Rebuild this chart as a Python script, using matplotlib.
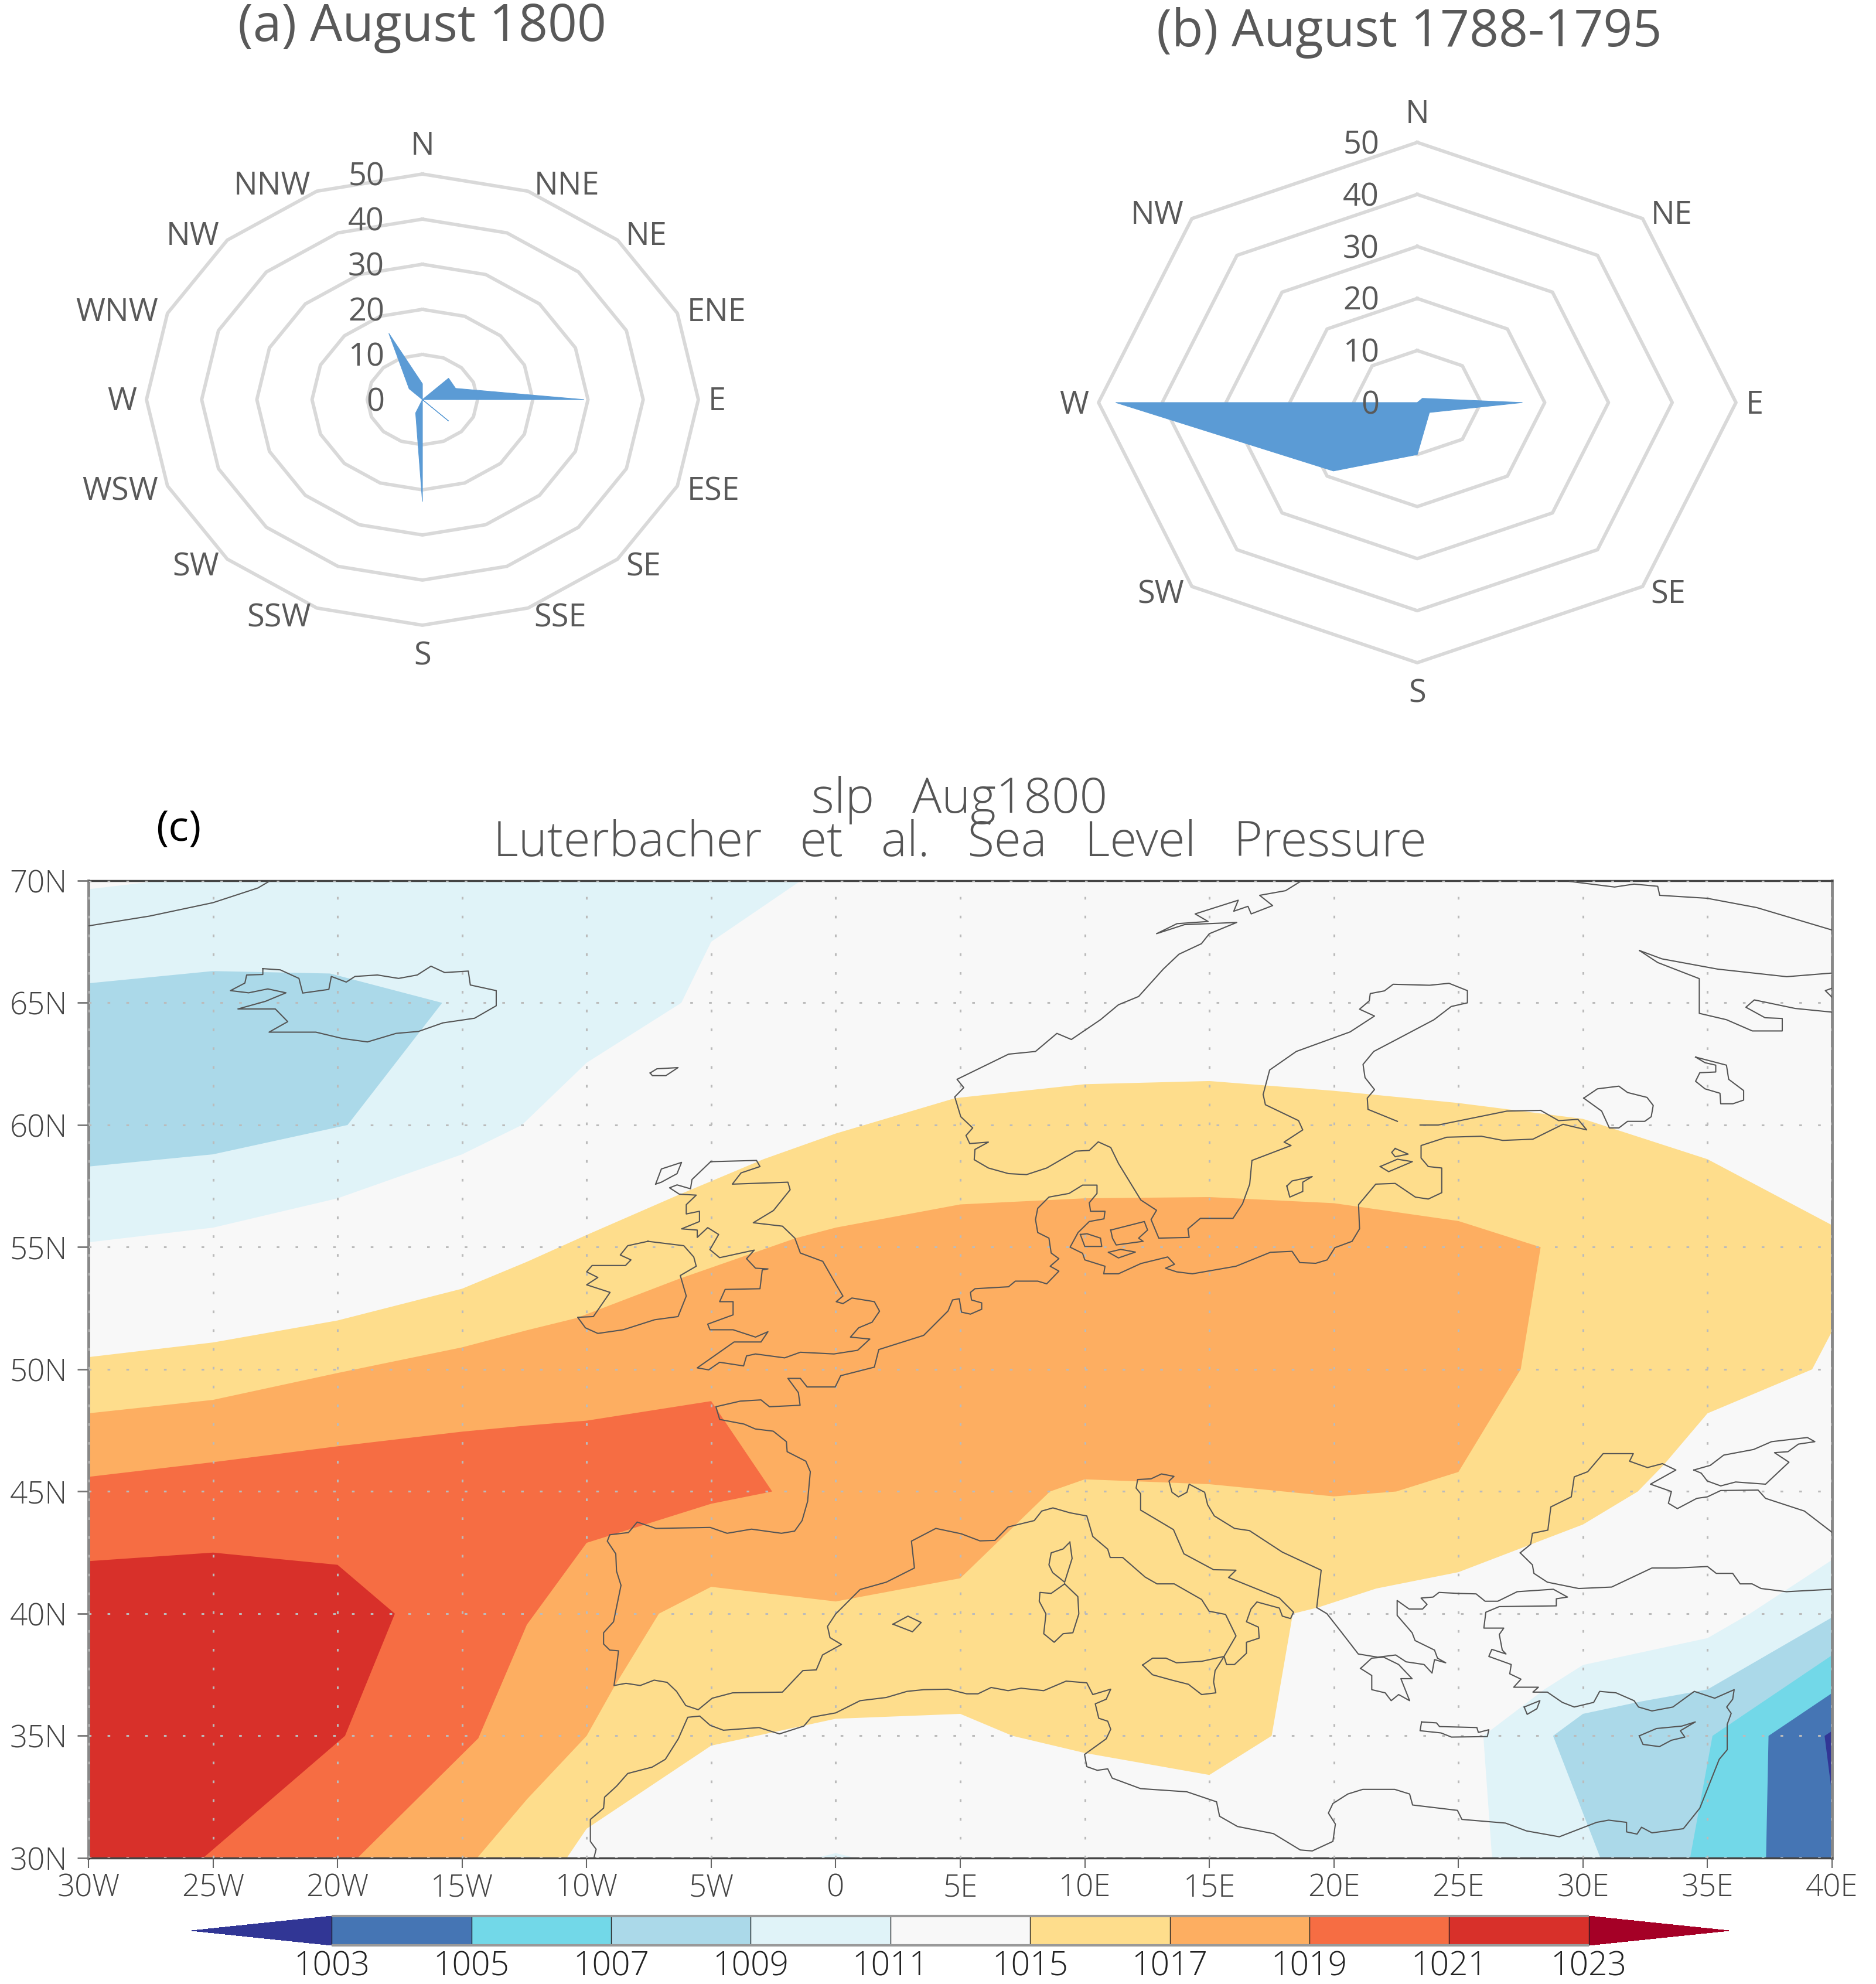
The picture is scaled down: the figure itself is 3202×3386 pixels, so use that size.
import numpy as np
import matplotlib
matplotlib.use("Agg")
import matplotlib.pyplot as plt
from matplotlib.cm import ScalarMappable
from matplotlib.colors import BoundaryNorm, ListedColormap

W, H = 3202, 3386

# --- wind roses: share of observations per direction ---
dirs_a = ["N", "NNE", "NE", "ENE", "E", "ESE", "SE", "SSE", "S", "SSW", "SW", "WSW", "W", "WNW", "NW", "NNW"]
vals_a = [3.5, 0, 6.7, 6.5, 29.3, 0, 6.7, 0, 22.6, 3.2, 0, 0, 0, 0, 3.4, 15.9]
dirs_b = ["N", "NE", "E", "SE", "S", "SW", "W", "NW"]
vals_b = [0, 1.15, 16.5, 2.7, 10, 18.6, 47.3, 0]
rings = [10, 20, 30, 40, 50]

# --- slp map: band polygons (lon, lat), lowest drawn first ---
lon_ticks = list(range(-30, 41, 5))
lon_labels = ["30W", "25W", "20W", "15W", "10W", "5W", "0", "5E", "10E", "15E", "20E", "25E", "30E", "35E", "40E"]
lat_ticks = [30, 35, 40, 45, 50, 55, 60, 65, 70]
lat_labels = ["30N", "35N", "40N", "45N", "50N", "55N", "60N", "65N", "70N"]
levels = [1003, 1005, 1007, 1009, 1011, 1015, 1017, 1019, 1021, 1023]
band_colors = ["#4575b4", "#72d8e8", "#abd9e9", "#e0f3f8", "#f8f8f8", "#fedd8c", "#fdae61", "#f66d43", "#d8302a"]
under_color = "#313695"
over_color = "#a50026"

nw_1009 = [(-30, 69.65), (-27.1, 70), (-1.4, 70), (-5, 67.5), (-6.2, 65), (-10, 62.55), (-12.6, 60), (-15, 58.8),
           (-20, 57), (-25, 55.8), (-30, 55.2)]
nw_1007 = [(-30, 65.8), (-25, 66.3), (-20.3, 66.2), (-15.8, 65), (-19.6, 60), (-25, 58.8), (-30, 58.3)]
se_1009 = [(40, 42.2), (36.7, 40), (35, 39), (30, 37.9), (28.45, 36.9), (26, 35), (26.35, 30), (40, 30)]
se_1007 = [(40, 39.85), (35, 36.9), (32.3, 36.4), (30, 35.9), (28.8, 35), (30.7, 30), (40, 30)]
se_1005 = [(40, 38.3), (35.2, 35), (34.3, 30), (40, 30)]
se_1003 = [(40, 36.75), (37.45, 35), (37.35, 30), (40, 30)]
se_low = [(39.7, 35), (40, 35.2), (40, 32.6)]
spot_1009 = [(-0.8, 30), (0, 30.2), (0.8, 30)]
band_1015 = [(-30, 50.5), (-25, 51.1), (-20, 52), (-15, 53.3), (-12.4, 54.4), (-10, 55.5), (-6.4, 57.1), (-5, 57.7),
             (-2.9, 58.6), (0, 59.65),
             (4.8, 61.1), (10, 61.67), (15, 61.8), (20, 61.4), (25, 60.9), (30, 60.25), (35, 58.6), (40, 55.9),
             (40, 51.56), (39.2, 50), (35, 48.2), (33.25, 46.1), (32.2, 45), (30, 43.65), (25, 41.7), (21.7, 41.03),
             (19.35, 40.25), (18.35, 40), (17.5, 35), (15, 33.4), (10, 34.3), (7.1, 35), (5, 35.9), (0, 35.7),
             (-5, 34.6), (-10, 31.2), (-10.8, 30), (-30, 30)]
band_1017 = [(-30, 48.2), (-25, 48.75), (-20, 49.85), (-15, 50.9), (-12.4, 51.6), (-10.4, 52.1), (-6.3, 53.7),
             (-1.6, 55.37), (0, 55.8), (5, 56.75), (10, 57), (15, 57.05), (20, 56.8), (25, 56.07), (28.3, 55),
             (27.5, 50), (25, 45.8), (22.5, 45), (20, 44.8), (15, 45.3), (10, 45.5), (8.6, 45), (5, 41.45), (0, 40.5),
             (-5, 41.1), (-7.1, 40), (-8.9, 37), (-10, 35), (-12.4, 32.4), (-14.4, 30), (-30, 30)]
band_1019 = [(-30, 45.6), (-25, 46.2), (-20, 46.85), (-15, 47.45), (-12.4, 47.7), (-10, 47.9), (-5, 48.7), (-2.55, 45),
             (-5, 44.5), (-10, 42.9), (-12.4, 39.55), (-14.35, 34.9), (-19.2, 30), (-30, 30)]
band_1021 = [(-30, 42.15), (-25, 42.5), (-20, 42), (-17.7, 40), (-19.7, 35), (-25.4, 30), (-30, 30)]

# --- coastlines (lon, lat) ---
greenland = [(-30, 68.15), (-27.55, 68.55), (-25, 69.1), (-23.2, 69.7), (-22.7, 70)]
iceland = [(-23, 66.4), (-22.3, 66.35), (-21.55, 66), (-21.4, 65.4), (-20.35, 65.55), (-20.25, 66.08), (-19.65, 65.85),
           (-19.3, 66.08), (-18.4, 66.14), (-17.55, 66), (-16.8, 66.14), (-16.25, 66.5), (-15.7, 66.24), (-14.75, 66.3),
           (-14.67, 65.73), (-13.63, 65.5), (-13.63, 64.88), (-14.5, 64.37), (-15.77, 64.18), (-16.75, 63.83),
           (-17.65, 63.75), (-18.8, 63.4), (-19.8, 63.54), (-20.87, 63.8), (-22.75, 63.8), (-22, 64.23), (-22.5, 64.75),
           (-24, 64.75), (-22.9, 65.06), (-22.07, 65.41), (-22.8, 65.57), (-23.57, 65.41), (-24.3, 65.5),
           (-23.72, 65.81), (-23.65, 66.14), (-23, 66.16), (-23, 66.4)]
faroe = [(-7.45, 62.13), (-7.18, 62.3), (-6.33, 62.35), (-6.82, 62.02), (-7.36, 62.02), (-7.45, 62.13)]
hebrides = [(-7.23, 57.58), (-7, 58.2), (-6.19, 58.47), (-6.37, 58.01), (-7, 57.66), (-7.23, 57.58)]
britain = [(-5.02, 58.5), (-3.18, 58.55), (-3.04, 58.3), (-3.8, 58.04), (-4.15, 57.58), (-1.92, 57.66), (-1.83, 57.35),
           (-2.5, 56.5), (-3.31, 56), (-2.14, 55.86), (-1.64, 55.37), (-1.42, 54.76), (-0.52, 54.42), (0.02, 53.46),
           (0.29, 53), (0.02, 52.77), (0.29, 52.69), (0.65, 52.92), (1.55, 52.77), (1.76, 52.38), (1.46, 51.93),
           (0.92, 51.7), (0.59, 51.32), (1.37, 51.24), (0.88, 50.78), (-0.07, 50.63), (-1.42, 50.7), (-2.05, 50.47),
           (-3.22, 50.63), (-3.58, 50.55), (-3.7, 50.14), (-4.66, 50.29), (-5.1, 49.98), (-5.56, 50.06), (-4.08, 51.12),
           (-3, 51.12), (-2.72, 51.54), (-3.22, 51.32), (-4.12, 51.62), (-5.05, 51.62), (-5.14, 51.85), (-4.12, 52.23),
           (-4.12, 52.77), (-4.66, 52.77), (-4.44, 53.27), (-3.04, 53.3), (-2.95, 54.07), (-2.72, 54.11), (-3.22, 54.14),
           (-3.58, 54.53), (-3.27, 54.88), (-4.66, 54.57), (-5.05, 54.9), (-4.7, 55.52), (-5.14, 55.8), (-5.56, 55.4),
           (-5.56, 55.7), (-6.19, 55.75), (-5.47, 56.05), (-5.47, 56.47), (-6, 56.36), (-6, 56.74), (-5.6, 57.13),
           (-6.28, 57.17), (-6.67, 57.43), (-6.37, 57.55), (-5.83, 57.39), (-5.77, 57.77), (-5.02, 58.5)]
ireland = [(-7.54, 55.24), (-6.1, 55.06), (-5.7, 54.6), (-5.6, 54.22), (-6.24, 53.84), (-6, 53), (-6.33, 52.16),
           (-7.27, 52.03), (-8.53, 51.62), (-9.55, 51.47), (-10.05, 51.7), (-10.36, 52.13), (-9.73, 52.16),
           (-9.06, 53.15), (-10, 53.46), (-9.55, 53.76), (-10, 53.99), (-9.78, 54.25), (-8.44, 54.25), (-8.22, 54.48),
           (-8.65, 54.68), (-8.35, 55.06), (-7.54, 55.24)]
norway_sweden = [(18.66, 69.97), (18.06, 69.59), (17.02, 69.4), (17.54, 68.98), (16.68, 68.64), (16.55, 68.95),
                 (15.98, 68.75), (16.16, 69.2), (14.43, 68.64), (14.95, 68.33), (13.7, 68.24), (12.88, 67.83),
                 (14, 68.2), (16.1, 68.29), (15, 67.83), (14.68, 67.42), (13.78, 66.99), (13.15, 66.38), (12.16, 65.26),
                 (11.35, 64.92), (10.63, 64.31), (9.46, 63.5), (8.88, 63.75), (8.02, 63.01), (6.94, 62.9), (4.87, 61.87),
                 (5.14, 61.53), (4.78, 61.15), (5.02, 60.34), (5.5, 59.88), (5.23, 59.57), (5.38, 59.24), (6.13, 59.3),
                 (5.59, 59), (5.56, 58.58), (6.13, 58.24), (6.94, 58.01), (7.66, 57.97), (8.47, 58.24), (9.64, 58.93),
                 (10.18, 58.96), (10.54, 59.31), (11.04, 59.08), (11.35, 58.43), (12.25, 56.93), (12.88, 56.51),
                 (12.66, 56.13), (12.97, 55.37), (14.19, 55.4), (14.14, 55.75), (14.64, 56.18), (15.95, 56.18),
                 (16.33, 56.77), (16.62, 57.58), (16.71, 58.55), (18.28, 59.16), (18, 59.3), (18.75, 59.8), (18.58, 60.18),
                 (17.25, 60.83), (17.16, 61.25), (17.42, 62.25), (18.49, 63.01), (20.65, 63.81), (21.63, 64.46),
                 (21.03, 64.74), (21.42, 65.08), (21.46, 65.38), (22.03, 65.49), (22.38, 65.76), (23.84, 65.72),
                 (24.62, 65.8), (25.36, 65.5), (25.36, 65), (24.71, 64.85), (24.02, 64.31), (22.46, 63.47), (21.6, 63.01),
                 (21.17, 62.48), (21.25, 61.94), (21.63, 61.45), (21.34, 61.1), (21.37, 60.64), (22.55, 60.15)]
gulf_finland_to_biscay = [(23.46, 60), (24.19, 60), (26.95, 60.57), (28.3, 60.6), (29.02, 60.18), (29.8, 60.23),
                          (30.15, 59.8), (29.2, 60.03), (27.99, 59.42), (26.78, 59.37), (25.92, 59.54), (24.53, 59.5),
                          (23.5, 59.16), (23.5, 58.65), (23.79, 58.3), (24.33, 58.24), (24.33, 57.23), (23.79, 56.97),
                          (23.27, 57.05), (22.46, 57.61), (21.68, 57.58), (20.99, 56.74), (21.03, 55.75), (20.73, 55.24),
                          (20.04, 54.98), (19.73, 54.48), (19.27, 54.34), (18.63, 54.37), (18.32, 54.83), (17.45, 54.79),
                          (16.07, 54.22), (14.32, 53.91), (13.69, 53.99), (13.24, 54.14), (13.6, 54.3), (13.33, 54.6),
                          (12.25, 54.33), (11.35, 53.91), (10.76, 53.91), (10.81, 54.22), (10, 54.48), (9.91, 54.75),
                          (9.41, 55), (9.73, 55.6), (10.18, 56.05), (10.77, 56.16), (10.81, 56.47), (10.23, 56.47),
                          (10.18, 56.82), (10.49, 57.2), (10.49, 57.54), (9.91, 57.54), (9.37, 57.2), (8.56, 57.05),
                          (8.11, 56.59), (8.02, 56.13), (8.11, 55.6), (8.56, 55.37), (8.65, 54.76), (8.96, 54.53),
                          (8.61, 54.22), (8.96, 54.02), (8.47, 53.5), (8.11, 53.61), (7.21, 53.61), (6.94, 53.38),
                          (5.59, 53.3), (5.41, 53.15), (5.45, 52.84), (5.86, 52.72), (5.86, 52.46), (5.41, 52.26),
                          (5.05, 52.34), (4.96, 52.89), (4.69, 52.84), (4.51, 52.39), (3.53, 51.39), (1.73, 50.81),
                          (1.55, 50.09), (0.2, 49.74), (-0.02, 49.28), (-1.15, 49.28), (-1.42, 49.63), (-1.92, 49.63),
                          (-1.5, 49.05), (-1.43, 48.53), (-2.66, 48.47), (-3, 48.75), (-3.83, 48.7), (-4.81, 48.47),
                          (-4.66, 47.95), (-3.68, 47.76), (-3.23, 47.56), (-2.51, 47.47), (-1.98, 47.04), (-1.95, 46.63),
                          (-1.2, 46.24), (-1.02, 45.81), (-1.13, 44.59), (-1.35, 43.81), (-1.65, 43.38), (-2.18, 43.29),
                          (-3.38, 43.46), (-4.36, 43.29), (-5.04, 43.53), (-7.22, 43.49), (-7.97, 43.75), (-8.32, 43.32),
                          (-9.07, 43.23), (-9.17, 42.97), (-8.83, 42.45), (-8.8, 41.74), (-8.62, 41.16), (-8.92, 39.67),
                          (-9.32, 39.22), (-9.32, 38.76), (-9.07, 38.51), (-8.72, 38.48), (-8.8, 37.79), (-8.9, 37.06),
                          (-8.42, 37.15), (-7.85, 37.06), (-7.29, 37.28), (-6.77, 37.19), (-6.39, 36.82), (-6.02, 36.24),
                          (-5.52, 36.07), (-4.96, 36.54), (-4.14, 36.76), (-2.14, 36.79), (-1.32, 37.67), (-0.78, 37.7),
                          (-0.53, 38.31), (0.23, 38.74), (-0.23, 39.02), (-0.33, 39.48), (0, 39.99), (0.98, 40.99),
                          (2.03, 41.29), (3.16, 41.87), (3.04, 42.97), (4.02, 43.49), (5.04, 43.27), (5.79, 42.98),
                          (6.39, 43), (6.92, 43.55), (7.97, 43.81), (8.27, 44.2), (8.72, 44.33), (9.4, 44.13), (10.08, 44),
                          (10.32, 43.16), (10.92, 42.64), (11.02, 42.3), (11.52, 42.3), (12.42, 41.5), (12.9, 41.22),
                          (13.59, 41.22), (14.69, 40.58), (14.99, 40.1), (15.65, 39.97), (16.07, 39.09), (15.59, 38.25),
                          (15.69, 37.92), (16.01, 37.92), (16.49, 38.38), (16.49, 38.83), (17, 39), (16.97, 39.45),
                          (16.49, 39.67), (16.67, 40.19), (16.91, 40.48), (17.81, 40.23), (17.93, 39.9), (18.26, 39.8),
                          (18.38, 40.06), (17.81, 40.64), (15.77, 41.48), (16.07, 41.78), (15.17, 41.8), (13.98, 42.45),
                          (13.56, 43.44), (12.24, 44.24), (12.24, 44.91), (12.06, 45.14), (12.12, 45.49), (12.66, 45.52),
                          (13.08, 45.72), (13.58, 45.62), (13.38, 45.43), (13.5, 44.97), (13.76, 44.78), (14.1, 44.97),
                          (14.19, 45.3), (14.81, 44.97), (14.93, 44.46), (15.2, 44), (16.01, 43.49), (16.61, 43.4),
                          (17.93, 42.52), (19.49, 41.78), (19.31, 40.25), (19.72, 40), (20.32, 39.22), (20.98, 38.35),
                          (21.76, 38.22), (22.48, 38.31), (22.9, 38.03), (23.62, 37.92), (23.94, 37.57), (24.04, 38.12),
                          (24.49, 37.99), (24.16, 38.18), (24.04, 38.51), (23.26, 38.9), (23.14, 39.22), (22.54, 39.93),
                          (22.54, 40.54), (23.02, 40.19), (23.56, 40.19), (23.74, 40.38), (23.5, 40.64), (23.98, 40.68),
                          (24.22, 40.87), (24.99, 40.83), (25.71, 40.81), (26.07, 40.51), (26.58, 40.51), (27.36, 40.9),
                          (28.81, 41), (29.38, 40.68), (28.93, 40.61), (28.93, 40.32), (26.64, 40.29), (26.1, 40.06),
                          (26.02, 39.41), (26.82, 39.41), (26.64, 39.15), (26.76, 38.51), (26.91, 38.35), (26.34, 38.54),
                          (26.22, 38.25), (27.12, 37.92), (27.06, 37.54), (27.51, 37.32), (27.22, 36.99), (28.21, 36.99),
                          (27.99, 36.79), (28.57, 36.79), (29.17, 36.37), (29.65, 36.18), (30.43, 36.37), (30.67, 36.82),
                          (31.33, 36.76), (32.05, 36.44), (32.23, 36.18), (32.77, 36.02), (33.61, 36.18), (34.47, 36.82),
                          (35.29, 36.54), (36.07, 36.89), (36.01, 36.5), (35.77, 36.18), (35.95, 35.92), (35.79, 35.47),
                          (35.79, 34.43), (35.47, 34.04), (34.69, 32.04), (34.03, 31.2), (32.77, 31.03), (32.35, 31.26),
                          (32.17, 30.98), (31.75, 31.07), (31.75, 31.46), (31.03, 31.55), (30.55, 31.46), (29.05, 30.87),
                          (27.73, 31.11), (26.89, 31.43), (25.14, 31.58), (24.96, 31.95), (23.16, 32.17), (23.04, 32.62),
                          (22.44, 32.81), (21.88, 32.81), (21.16, 32.81), (20.56, 32.62), (19.96, 32.23), (19.78, 31.84),
                          (20.06, 31.39), (19.96, 30.68), (19.13, 30.29), (18.65, 30.33), (17.57, 31), (16.13, 31.29),
                          (15.41, 31.71), (15.29, 32.3), (14.1, 32.71), (12.24, 32.84), (11.1, 33.27), (10.92, 33.65),
                          (10.5, 33.59), (10.08, 33.74), (9.99, 34.24), (10.86, 34.88), (11.04, 35.27), (10.92, 35.6),
                          (10.56, 35.72), (10.42, 36.31), (10.86, 36.5), (11.04, 36.91), (10.32, 36.69), (10.08, 37.17),
                          (9.25, 37.24), (8.35, 36.85), (7.44, 36.95), (6.92, 36.85), (6.24, 36.98), (5.71, 36.72),
                          (5.26, 36.72), (4.51, 36.91), (3.53, 36.89), (2.86, 36.82), (2.03, 36.57), (0.98, 36.44),
                          (0, 35.94), (-0.98, 35.76), (-1.28, 35.4), (-2.26, 35.08), (-3.08, 35.34), (-4.51, 35.23),
                          (-5.04, 35.43), (-5.46, 35.81), (-5.94, 35.76), (-6.32, 34.88), (-6.84, 34.04), (-7.37, 33.72),
                          (-8.35, 33.46), (-8.8, 32.94), (-9.28, 32.49), (-9.32, 32.04), (-9.85, 31.58), (-9.85, 30.68),
                          (-9.62, 30.36), (-9.7, 30.03)]
black_sea_west = [(27.48, 42.49), (27.9, 42.84), (27.97, 43.29), (28.59, 43.42), (28.71, 44.37), (29.53, 44.78),
                  (29.65, 45.6), (30.19, 45.81), (30.81, 46.55), (32.02, 46.55), (31.87, 46.24), (32.59, 45.98),
                  (33.19, 46.14), (33.73, 45.88), (32.71, 45.3), (33.55, 45), (33.43, 44.52), (33.79, 44.3),
                  (34.57, 44.72), (34.99, 44.78), (35.53, 45.04), (37.03, 45.06), (37.33, 44.72), (38.89, 44.2), (40, 43.33)]
azov = [(34.45, 45.88), (35.11, 46.07), (35.65, 46.49), (36.85, 46.72), (37.57, 47.04), (39.01, 47.21), (39.31, 47.04),
        (38.65, 46.94), (38.23, 46.63), (37.69, 46.59), (38.27, 46.2), (37.33, 45.3), (36.13, 45.39), (35.53, 45.23),
        (34.99, 45.43), (34.75, 45.75), (34.45, 45.88)]
turkey_north = [(27.48, 42.49), (27.97, 42), (28.03, 41.65), (28.57, 41.29), (29.83, 41.03), (31.15, 41.09), (32.77, 41.87),
                (33.73, 41.87), (35, 41.93), (35.35, 41.65), (36.01, 41.65), (36.31, 41.22), (36.79, 41.22), (37.15, 41.03),
                (38.17, 40.9), (40, 41)]
mallorca = [(2.3, 39.57), (2.9, 39.9), (3.43, 39.64), (3.08, 39.26), (2.3, 39.57)]
corsica = [(9.4, 42.93), (9.49, 42.26), (9.19, 41.29), (8.71, 41.68), (8.56, 42), (8.65, 42.49), (9.13, 42.65), (9.4, 42.93)]
sardinia = [(9.19, 41.22), (9.72, 40.7), (9.76, 39.99), (9.52, 39.22), (9.13, 39.18), (8.77, 38.83), (8.35, 39.18),
            (8.44, 39.99), (8.17, 40.51), (8.2, 40.87), (8.65, 40.83), (9.19, 41.22)]
sicily = [(12.32, 37.9), (12.72, 38.18), (13.26, 38.18), (13.68, 37.99), (14.69, 38.05), (15.59, 38.25), (15.23, 37.67),
          (15.17, 37.21), (15.26, 36.76), (14.69, 36.69), (14.16, 37.11), (13.5, 37.28), (12.72, 37.5), (12.32, 37.9)]
peloponnese = [(21.07, 37.76), (21.52, 38.18), (22, 38.22), (22.6, 37.92), (23.14, 37.34), (22.69, 37.34), (23.04, 36.44),
               (22.6, 36.69), (22.3, 36.44), (22.06, 36.76), (21.52, 36.89), (21.52, 37.47), (21.07, 37.76)]
crete = [(23.52, 35.57), (24.12, 35.53), (24.24, 35.38), (25.74, 35.34), (25.8, 35.14), (26.22, 35.25), (26.16, 34.97),
         (24.72, 34.95), (24.3, 35.12), (23.46, 35.21), (23.52, 35.57)]
rhodes = [(27.64, 36.18), (28.27, 36.44), (28.15, 36.11), (27.76, 35.88), (27.64, 36.18)]
cyprus = [(32.26, 35), (32.95, 35.3), (33.97, 35.4), (34.51, 35.57), (33.91, 35.21), (34.09, 34.95), (33.55, 34.82),
          (33.07, 34.56), (32.41, 34.65), (32.26, 35)]
gotland = [(18.11, 57.5), (18.32, 57.71), (19.13, 57.89), (18.75, 57.66), (18.75, 57.28), (18.23, 57.05), (18.11, 57.5)]
saaremaa = [(21.86, 58.3), (22.55, 58.6), (23.15, 58.5), (22.2, 58.09), (21.86, 58.3)]
hiiumaa = [(22.46, 59.04), (22.98, 58.81), (22.46, 58.7), (22.32, 58.88), (22.46, 59.04)]
fyn = [(9.82, 55.52), (10.09, 55.55), (10.63, 55.37), (10.68, 55.03), (10, 55.03), (9.82, 55.52)]
zealand = [(11.04, 55.7), (12.39, 56.05), (12.52, 55.7), (12.16, 55.37), (12.34, 55.24), (11.26, 55.09), (11.11, 55.37),
           (11.04, 55.7)]
lolland = [(10.95, 54.79), (11.44, 54.91), (12.03, 54.8), (11.35, 54.56), (10.95, 54.79)]
ladoga = [(30.03, 61.1), (30.58, 61.48), (31.44, 61.59), (31.79, 61.33), (32.57, 61.13), (32.82, 60.8), (32.74, 60.34),
          (32.48, 60.15), (31.79, 60.15), (31.44, 59.88), (31.06, 59.88), (30.75, 60.57), (30.03, 61.1)]
onega = [(34.52, 62.78), (35.76, 62.45), (35.85, 61.87), (36.45, 61.41), (36.45, 61.02), (36.02, 60.87), (35.53, 60.87),
         (35.5, 61.3), (34.9, 61.48), (34.52, 61.79), (34.69, 62.14), (35.33, 62.17), (35.33, 62.45), (34.9, 62.55),
         (34.52, 62.78)]
kola_north = [(29.46, 69.97), (31.27, 69.74), (32.05, 69.86), (33, 69.77), (33.08, 69.4), (34.98, 69.28), (36.97, 68.9),
              (40, 67.98)]
kola_south = [(32.27, 67.14), (33.17, 66.8), (35.41, 66.38), (38.18, 66.07), (40, 66.22)]
white_sea = [(32.27, 67.14), (33, 66.65), (34.67, 65.99), (34.67, 64.57), (35.76, 64.31), (36.8, 63.85), (38, 63.85),
             (38, 64.36), (37.31, 64.39), (36.54, 64.82), (36.88, 65.12), (38.52, 64.77), (40, 64.62)]
east_edge = [(40, 65.6), (39.73, 65.5), (40, 65.23)]

coasts = [greenland, iceland, faroe, hebrides, britain, ireland, norway_sweden, gulf_finland_to_biscay, black_sea_west,
          azov, turkey_north, mallorca, corsica, sardinia, sicily, peloponnese, crete, rhodes, cyprus, gotland, saaremaa,
          hiiumaa, fyn, zealand, lolland, ladoga, onega, kola_north, kola_south, white_sea, east_edge]


def box(x0, y0, x1, y1):
    # pixel box of the picture -> figure fractions
    return [x0 / W, 1 - y1 / H, (x1 - x0) / W, (y1 - y0) / H]


def rose(cx, cy, rx, ry, dirs, vals):
    ax = fig.add_axes(box(cx - rx, cy - ry, cx + rx, cy + ry), projection="polar")
    ax.set_theta_zero_location("N")
    ax.set_theta_direction(-1)
    ax.set_aspect("auto")
    ax.set_ylim(0, 50)
    ax.axis("off")
    theta = np.radians(np.arange(len(dirs)) * 360.0 / len(dirs))
    closed = np.append(theta, theta[0])
    for r in rings:
        ax.plot(closed, [r] * len(closed), color="#d9d9d9", lw=4.2, clip_on=False, zorder=1)
    ax.fill(closed, vals + vals[:1], facecolor="#5b9bd5", edgecolor="#5b9bd5", lw=0.8, clip_on=False, zorder=2)
    for r in [0] + rings:
        ax.annotate(str(r), (0, r), xytext=(-65, -5), textcoords="offset pixels", ha="right", va="center",
                    fontsize=39, color="#595959", family="Open Sans", annotation_clip=False, zorder=5)
    for t, name in zip(theta, dirs):
        s, c = np.sin(t), np.cos(t)
        if abs(s) < 1e-6:
            dx, dy, ha = 0, 50 * np.sign(c) - 3, "center"
        else:
            dx, dy, ha = np.sign(s) * (6 + 11 * abs(s)), 14 * c - 4, "left" if s > 0 else "right"
        ax.annotate(name, (t, 50), xytext=(dx, dy), textcoords="offset pixels", ha=ha, va="center",
                    fontsize=39, color="#595959", family="Open Sans", annotation_clip=False, zorder=5)


fig = plt.figure(figsize=(W / 100, H / 100), dpi=100, facecolor="white")

rose(721, 682, 471, 385, dirs_a, vals_a)
rose(2419, 687, 544, 444, dirs_b, vals_b)

fig.text(720 / W, 1 - 47 / H, "(a) August 1800", fontsize=63, color="#595959", family="Open Sans", ha="center", va="center")
fig.text(2405 / W, 1 - 56 / H, "(b) August 1788-1795", fontsize=63, color="#595959", family="Open Sans", ha="center", va="center")
fig.text(305 / W, 1 - 1416 / H, "(c)", fontsize=52, color="black", family="Open Sans", ha="center", va="center")

fig.text(1638 / W, 1 - 1366 / H, "slp   Aug1800", fontsize=60, color="#555555", family="Open Sans", weight="light", ha="center", va="center")
fig.text(1638 / W, 1 - 1440 / H, "Luterbacher   et   al.   Sea   Level   Pressure", fontsize=60, color="#555555",
         family="Open Sans", weight="light", ha="center", va="center")

ax = fig.add_axes(box(151, 1503, 3127, 3171))
ax.set_facecolor(band_colors[4])
ax.set_xlim(-30, 40)
ax.set_ylim(30, 70)

fills = [(nw_1009, band_colors[3]), (nw_1007, band_colors[2]), (se_1009, band_colors[3]), (se_1007, band_colors[2]),
         (se_1005, band_colors[1]), (se_1003, band_colors[0]), (se_low, under_color), (spot_1009, band_colors[3]),
         (band_1015, band_colors[5]), (band_1017, band_colors[6]), (band_1019, band_colors[7]), (band_1021, band_colors[8])]
for poly, col in fills:
    xs, ys = zip(*poly)
    ax.fill(xs, ys, color=col, lw=0, zorder=1)

for line in coasts:
    xs, ys = zip(*line)
    ax.plot(xs, ys, color="#555555", lw=1.5, zorder=3)

ax.set_axisbelow(False)
ax.grid(True, color="#bbbbbb", lw=2.2, linestyle=(0, (1.5, 9)), zorder=2)
ax.set_xticks(lon_ticks)
ax.set_xticklabels(lon_labels, fontsize=38, color="#444444", family="Open Sans", weight="light")
ax.set_yticks(lat_ticks)
ax.set_yticklabels(lat_labels, fontsize=38, color="#444444", family="Open Sans", weight="light")
ax.tick_params(axis="x", length=12, width=1.5, color="#666666", pad=6)
ax.tick_params(axis="y", length=14, width=2, color="#777777", pad=12)
for side in ["left", "right"]:
    ax.spines[side].set_color("#888888")
    ax.spines[side].set_linewidth(3.5)
for side in ["top", "bottom"]:
    ax.spines[side].set_color("#444444")
    ax.spines[side].set_linewidth(2.5)

cax = fig.add_axes(box(327, 3270, 2951, 3320))
cmap = ListedColormap(band_colors)
cmap.set_under(under_color)
cmap.set_over(over_color)
norm = BoundaryNorm(levels, cmap.N)
cb = fig.colorbar(ScalarMappable(norm=norm, cmap=cmap), cax=cax, orientation="horizontal", spacing="uniform",
                  extend="both", extendfrac=0.1115, drawedges=True, ticks=levels)
cb.dividers.set_color("#222222")
cb.dividers.set_linewidth(1)
cb.outline.set_visible(False)
cb.ax.hlines([0, 1], levels[0], levels[-1], color="#999999", lw=3, clip_on=False, zorder=5)
cb.ax.tick_params(length=0, pad=6)
cb.ax.set_xticklabels([str(v) for v in levels], fontsize=41, color="#222222", family="Open Sans", weight="light")

fig.savefig("out.png", dpi=100)
